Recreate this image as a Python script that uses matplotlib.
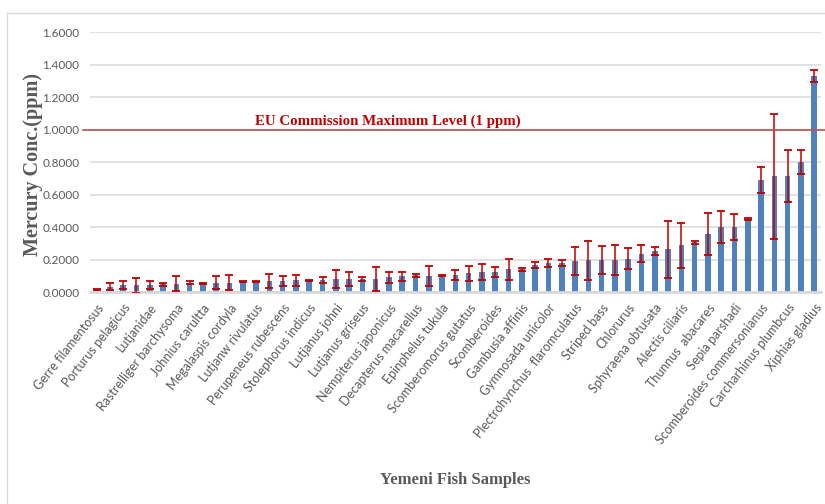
import numpy as np
import matplotlib
matplotlib.use('Agg')
import matplotlib.pyplot as plt
from matplotlib.lines import Line2D
import matplotlib.transforms as mtransforms

# species shown on the axis (Excel only labelled every other bar)
labels = ['Gerre filamentosus', 'Porturus pelagicus', 'Lutjanidae',
          'Rastrelliger barchysoma', 'Johnius carultta', 'Megalaspis cordyla',
          'Lutjanw rivulatus', 'Perupeneus rubescens', 'Stolephorus indicus',
          'Lutjanus johni', 'Lutjanus griseus', 'Nempiterus japonicus',
          'Decapterus macarellus', 'Epinphelus tukula', 'Scomberomorus gutatus',
          'Scomberoides', 'Gambusia affinis', 'Gymnosada unicolor',
          'Plectrohynchus  flaromculatus', 'Striped bass', 'Chlorurus',
          'Sphyraena obtusata', 'Alectis ciliaris', 'Thunnus  abacares',
          'Sepia parshadi', 'Scomberoides commersonianus',
          'Carcharhinus plumbcus', 'Xiphias gladius']

# mean mercury concentration (ppm), 55 samples
hg = [0.015, 0.033, 0.041, 0.041, 0.041, 0.047, 0.052, 0.058, 0.052, 0.058,
      0.058, 0.066, 0.066, 0.066, 0.066, 0.073, 0.070, 0.073, 0.081, 0.081,
      0.081, 0.081, 0.090, 0.096, 0.102, 0.098, 0.102, 0.106, 0.115, 0.123,
      0.123, 0.140, 0.140, 0.165, 0.179, 0.179, 0.190, 0.196, 0.196, 0.196,
      0.206, 0.237, 0.254, 0.262, 0.287, 0.305, 0.357, 0.398, 0.398, 0.452,
      0.689, 0.711, 0.711, 0.800, 1.332]

# standard deviation
sd = [0.003, 0.020, 0.025, 0.045, 0.025, 0.007, 0.045, 0.010, 0.003, 0.040,
      0.047, 0.003, 0.003, 0.044, 0.030, 0.033, 0.005, 0.020, 0.057, 0.044,
      0.014, 0.072, 0.032, 0.030, 0.008, 0.064, 0.003, 0.030, 0.048, 0.050,
      0.030, 0.065, 0.010, 0.020, 0.024, 0.020, 0.088, 0.120, 0.088, 0.093,
      0.063, 0.050, 0.025, 0.177, 0.140, 0.010, 0.128, 0.098, 0.080, 0.006,
      0.080, 0.387, 0.160, 0.074, 0.037]

eu_limit = 1.0

x = np.arange(len(hg))

fig = plt.figure(figsize=(8.25, 5.04), dpi=100)
ax = fig.add_axes([0.109, 0.4206, 0.886, 0.5159])

ax.bar(x, hg, width=0.42, color='#4F81BD', zorder=2,
       yerr=sd, error_kw=dict(ecolor='#C00000', elinewidth=1.1,
                              capsize=2.6, capthick=1.3, zorder=3))

# EU limit line, running slightly past the left edge of the plot
trans = mtransforms.blended_transform_factory(ax.transAxes, ax.transData)
ax.add_line(Line2D([-0.009, 1.01], [eu_limit, eu_limit], transform=trans,
                   color='#C0504D', lw=1.2, clip_on=False, zorder=4))
ax.text(21.9, eu_limit + 0.012, 'EU Commission Maximum Level (1 ppm)',
        ha='center', va='bottom', color='#C00000', fontsize=10.7,
        fontweight='bold', family='Liberation Serif')

ax.set_xlim(-0.5, len(hg) - 0.5)
ax.set_ylim(0, 1.6)
ax.set_yticks(np.arange(0, 1.61, 0.2))
ax.set_yticklabels(['%.4f' % v for v in np.arange(0, 1.61, 0.2)])
ax.set_xticks(x[::2])
ax.set_xticklabels(labels, rotation=52, ha='right', rotation_mode='anchor')

ax.tick_params(axis='both', length=0, colors='#595959')
ax.tick_params(axis='y', labelsize=8.5, pad=7.5)
ax.tick_params(axis='x', labelsize=9, pad=7)
for t in ax.get_xticklabels() + ax.get_yticklabels():
    t.set_family('Lato')

ax.grid(axis='y', color='#D9D9D9', lw=1.1, zorder=0)
ax.set_axisbelow(True)
for s in ['top', 'right', 'left']:
    ax.spines[s].set_visible(False)
ax.spines['bottom'].set_color('#D9D9D9')
ax.spines['bottom'].set_linewidth(2)

fig.text(33/825, 1 - 164/504, 'Mercury Conc.(ppm)', rotation=90,
         ha='center', va='center', fontsize=14.5, fontweight='bold',
         family='Liberation Serif', color='#595959')
fig.text(0.552, 0.048, 'Yemeni Fish Samples', ha='center', va='center',
         fontsize=12, fontweight='bold', family='Liberation Serif',
         color='#595959')

# outer chart frame
fig.add_artist(Line2D([7/825, 7/825], [0, 1 - 13/504], transform=fig.transFigure,
                      color='#D9D9D9', lw=1))
fig.add_artist(Line2D([7/825, 1], [1 - 13/504, 1 - 13/504], transform=fig.transFigure,
                      color='#D9D9D9', lw=1))

plt.savefig('out.png', dpi=100)
